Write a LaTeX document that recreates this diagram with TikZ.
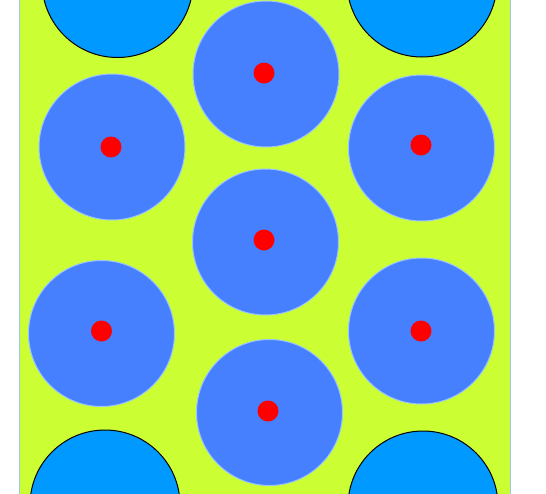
\documentclass[tikz,border=0pt]{standalone}
\usepackage{tikz}
\usepackage{xcolor}

\definecolor{lime}{HTML}{CCFF33}
\definecolor{corner}{HTML}{0099FF}
\definecolor{disc}{HTML}{4680FF}
\definecolor{rim}{HTML}{99C4FF}

\begin{document}
\begin{tikzpicture}[x=1pt, y=-1pt,
    cell/.style={fill=disc, draw=rim, line width=1pt},
    cornercell/.style={fill=corner, draw=black, line width=1pt},
    centre/.style={fill=red}]
    \useasboundingbox (0,0) rectangle (546,493);
    \clip (0,0) rectangle (546,493);

    % Background strip
    \draw[fill=lime, draw=rim, line width=1pt] (19,-5) rectangle (510,498);

    % Corner circles (cut off by the page)
    \draw[cornercell] (117.5,-18) circle (75.5);
    \draw[cornercell] (422,-18) circle (75);
    \draw[cornercell] (105,505) circle (75);
    \draw[cornercell] (423,506) circle (75);

    % Blue cells
    \draw[cell] (266,74) circle (73);
    \draw[cell] (112,147) circle (73);
    \draw[cell] (421.5,148) circle (73);
    \draw[cell] (265.5,242) circle (73);
    \draw[cell] (101.5,333.5) circle (73);
    \draw[cell] (421.5,331) circle (73);
    \draw[cell] (269.5,412.5) circle (73);

    % Red centres
    \fill[centre] (264,73) circle (10.5);
    \fill[centre] (111,147) circle (10.5);
    \fill[centre] (421,145) circle (10.5);
    \fill[centre] (264,240) circle (10.5);
    \fill[centre] (101.5,331) circle (10.5);
    \fill[centre] (421,331) circle (10.5);
    \fill[centre] (268,411) circle (10.5);
\end{tikzpicture}
\end{document}
